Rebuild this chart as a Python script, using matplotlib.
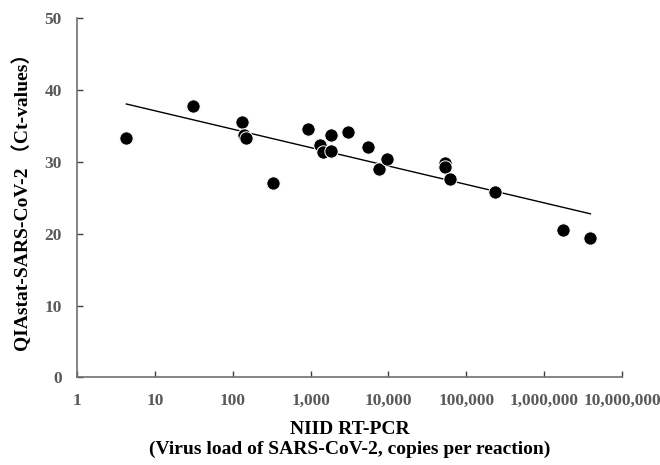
import numpy as np
import matplotlib
matplotlib.use("Agg")
import matplotlib.pyplot as plt
from matplotlib.ticker import FixedLocator, FuncFormatter, NullLocator

# NIID RT-PCR copies per reaction vs QIAstat Ct-values
copies = [4.3, 31, 130, 139, 147, 331, 930, 1320, 1450, 1810, 1810, 3040,
          5480, 7600, 9600, 53700, 53900, 61400, 232000, 1750000, 3930000]
ct_values = [33.3, 37.8, 35.5, 33.8, 33.4, 27.0, 34.6, 32.4, 31.4, 33.8, 31.5,
             34.2, 32.1, 29.0, 30.4, 29.9, 29.3, 27.6, 25.8, 20.5, 19.4]

x_ticks = [1, 10, 100, 1000, 10000, 100000, 1000000, 10000000]
y_ticks = [0, 10, 20, 30, 40, 50]

plt.rcParams['font.family'] = ['Liberation Serif', 'Noto Sans CJK JP', 'DejaVu Sans']

fig = plt.figure(figsize=(6.6, 4.65), dpi=100)
ax = fig.add_axes([0.1167, 0.1886, 0.8257, 0.772])

ax.plot(copies, ct_values, 'o', color='black', markersize=9.6,
        markeredgecolor='white', markeredgewidth=0.7, zorder=3)

# log-linear trend line over the data range
slope, intercept = np.polyfit(np.log10(copies), ct_values, 1)
xs = np.array([min(copies), max(copies)])
ax.plot(xs, intercept + slope * np.log10(xs), color='black', linewidth=1.0, zorder=2)

ax.set_xscale('log')
ax.set_xlim(1, 10000000)
ax.set_ylim(0, 50)
ax.xaxis.set_major_locator(FixedLocator(x_ticks))
ax.xaxis.set_minor_locator(NullLocator())
ax.xaxis.set_major_formatter(FuncFormatter(lambda v, p: f"{int(round(v)):,}"))
ax.set_yticks(y_ticks)

for s in ['top', 'right']:
    ax.spines[s].set_visible(False)
for s in ['left', 'bottom']:
    ax.spines[s].set_color('#707070')
    ax.spines[s].set_linewidth(1.2)

ax.tick_params(axis='both', direction='in', length=4, width=1, color='#404040',
               labelcolor='#595959', labelsize=12.5)
ax.tick_params(axis='x', pad=11)
ax.tick_params(axis='y', pad=11)
for lab in ax.get_xticklabels() + ax.get_yticklabels():
    lab.set_fontweight('bold')

ax.set_xlabel("NIID RT-PCR\n(Virus load of SARS-CoV-2, copies per reaction)",
              fontsize=14, fontweight='bold', labelpad=9, linespacing=1.2)
ax.set_ylabel("QIAstat-SARS-CoV-2 （Ct-values）", fontsize=14,
              fontweight='bold', labelpad=9)

fig.savefig("out.png", dpi=100)
